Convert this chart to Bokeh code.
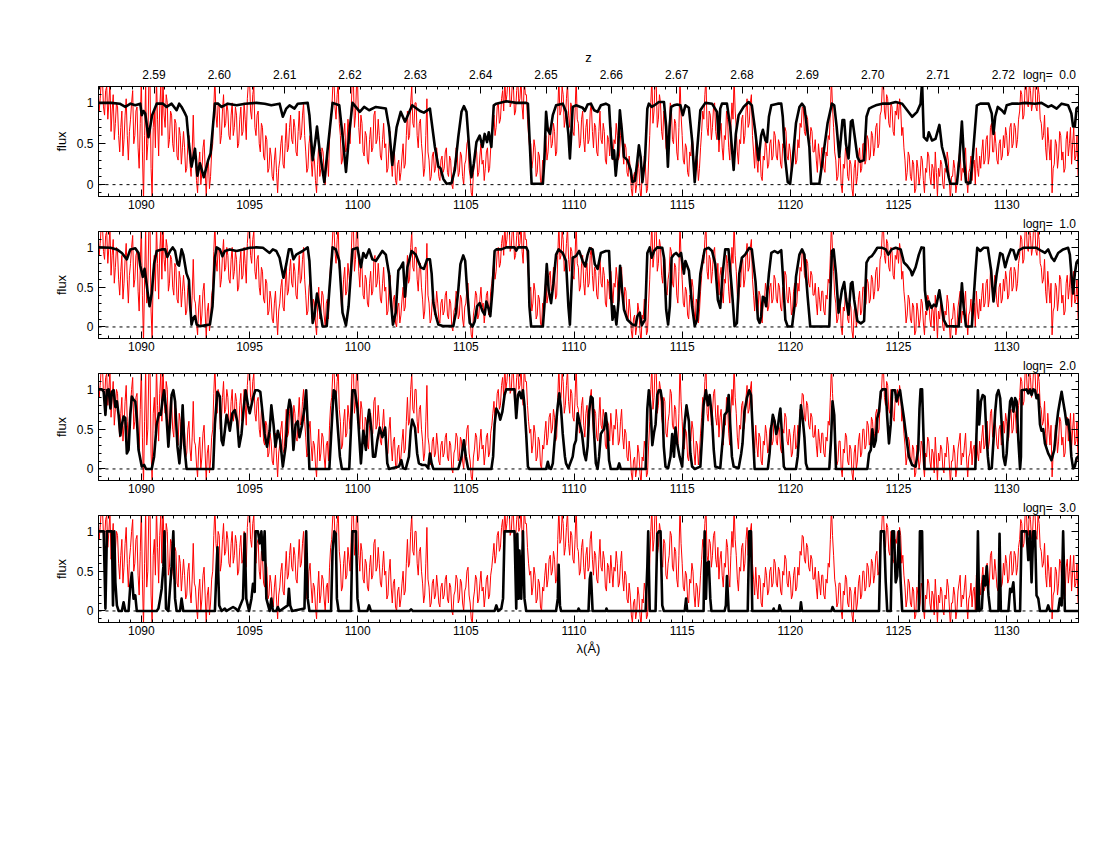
from bokeh.plotting import figure
from bokeh.models import (Range1d, LinearAxis, FixedTicker, NumeralTickFormatter,
                          CustomJSTickFormatter, CustomLabelingPolicy, Span)
from bokeh.layouts import column
from bokeh.embed import file_html
from bokeh.resources import INLINE

# ---------------- data ----------------
X_RANGE = (1088.02, 1133.32)
Y_RANGE = (-0.145, 1.2)
Z_RANGE = (2.5815, 2.7315)
X_TICKS = [1090, 1095, 1100, 1105, 1110, 1115, 1120, 1125, 1130]
Z_TICKS = [2.59, 2.60, 2.61, 2.62, 2.63, 2.64, 2.65, 2.66, 2.67, 2.68, 2.69, 2.70, 2.71, 2.72]
Y_TICKS = [0, 0.5, 1]
ETA_LABELS = ["logη=\u00a0\u00a00.0", "logη=\u00a0\u00a01.0", "logη=\u00a0\u00a02.0", "logη=\u00a0\u00a03.0"]

# observed spectrum (red), sampled every 0.05 A from 1088.0 A
RED_START = 1088.0
RED_STEP = 0.05
RED_FLUX = [
    1.25, 0.9, 1.05, 1.3, 1.3, 0.95, 0.85, 1.15, 1.2, 0.8, 1.0, 1.25, 0.65, 0.9, 1.1, 0.55, 0.75, 1.0, 0.95, 0.6,
    0.4, 0.7, 0.9, 0.35, 0.55, 0.85, 1.05, 0.6, 0.3, 0.65, 0.8, 1.0, 1.15, 0.5, 0.6, 0.9, 0.95, 0.45, 0.2, 0.75,
    1.3, 0.4, -0.2, 0.6, 1.25, 0.3, 0.5, 1.3, 1.3, 0.2, -0.15, 0.7, 0.9, 0.45, 1.3, 0.8, 0.35, 0.95, 1.2, 0.6,
    1.3, 0.85, 0.7, 1.1, 1.0, 0.45, 0.55, 0.9, 0.85, 0.5, 0.4, 0.8, 0.75, 0.35, 0.3, 0.7, 0.6, 0.25, 0.45, 0.65,
    0.45, 0.15, 0.2, 0.5, 0.6, 0.25, 0.1, 0.4, 0.85, 0.35, 0.3, 0.05, -0.1, 0.25, 0.4, 0.0, 0.15, 0.45, 0.55, 0.2,
    -0.15, 0.2, 0.3, -0.05, 0.1, 0.4, 0.5, 0.95, 1.3, 0.85, 0.7, 1.0, 0.95, 0.5, 0.6, 0.9, 1.1, 0.7, 0.75, 1.0,
    0.9, 0.6, 0.55, 0.85, 1.0, 0.6, 0.7, 0.95, 0.85, 0.45, 0.5, 0.8, 0.95, 0.6, 0.65, 1.0, 0.8, 0.55, 1.05, 1.25,
    1.3, 0.9, 0.8, 1.1, 1.2, 0.7, 0.6, 0.85, 0.9, 0.5, 0.4, 0.75, 0.7, 0.35, 0.3, 0.6, 0.55, 0.15, 0.2, 0.45,
    0.35, 0.1, 0.05, 0.3, 0.45, 0.15, -0.1, 0.2, 0.3, 0.5, 0.6, 0.25, 0.2, 0.5, 0.75, 0.4, 0.45, 0.7, 0.85, 0.55,
    0.5, 0.8, 0.7, 0.4, 0.35, 0.65, 0.9, 0.55, 0.6, 0.85, 1.0, 0.6, 0.4, 0.15, 0.2, 0.5, 0.6, 0.3, 0.1, 0.35,
    0.3, 0.05, -0.1, 0.25, 0.5, 0.1, 0.2, 0.45, 0.4, 0.15, 0.0, 0.3, 0.35, 0.1, 0.55, 0.8, 0.9, 1.2, 1.3, 0.95,
    0.8, 1.1, 1.25, 0.75, 0.6, 0.25, 0.3, 0.6, 0.75, 0.4, 0.45, 0.8, 0.65, 0.5, 0.9, 1.3, 1.3, 0.7, 0.85, 1.25,
    1.2, 0.7, 0.5, 0.85, 0.75, 0.4, 0.35, 0.65, 0.6, 0.3, 0.25, 0.55, 0.7, 0.4, 0.45, 0.85, 0.9, 0.5, 0.55, 0.8,
    0.6, 0.35, 0.3, 0.55, 0.75, 0.45, 0.5, 0.15, 0.2, 0.5, 0.65, 0.3, 0.1, 0.35, 0.4, 0.05, 0.0, 0.25, 0.3, 0.05,
    0.15, 0.35, 0.5, 0.2, 0.25, 0.6, 0.9, 0.55, 0.6, 1.0, 1.2, 0.75, 0.7, 1.0, 1.0, 0.6, 0.45, 0.75, 0.8, 0.5,
    0.35, 0.1, 0.2, 0.6, 1.05, 0.4, 0.3, 0.05, 0.1, 0.35, 0.4, 0.15, 0.2, 0.45, 0.3, 0.1, 0.05, 0.3, 0.35, 0.15,
    0.2, 0.4, 0.45, 0.15, 0.1, 0.35, 0.3, 0.0, -0.05, 0.2, 0.25, 0.45, 0.4, 0.1, 0.15, 0.4, 0.35, 0.1, 0.0, 0.25,
    0.3, 0.5, 0.55, 0.2, 0.1, -0.1, -0.15, 0.15, 0.25, 0.45, 0.4, 0.1, 0.15, 0.35, 0.5, 0.25, 0.3, 0.05, 0.2, 0.4,
    0.45, 0.15, 0.2, 0.45, 0.55, 0.7, 0.85, 0.6, 0.7, 0.95, 1.0, 0.75, 0.8, 1.05, 1.15, 0.9, 1.3, 1.0, 1.1, 1.3,
    1.3, 0.95, 1.0, 1.25, 1.2, 0.85, 0.9, 1.15, 1.3, 1.0, 1.05, 1.3, 0.95, 0.8, 1.3, 1.1, 1.1, 0.8, 0.6, 0.45,
    0.5, 0.2, 0.3, 0.55, 0.45, 0.1, 0.15, 0.4, 0.35, 0.05, 0.0, 0.3, 0.25, 0.45, 0.6, 0.3, 0.4, 0.65, 0.7, 0.45,
    0.5, 0.75, 0.65, 0.35, 0.4, 0.9, 1.3, 0.85, 0.9, 1.2, 1.1, 0.7, 0.8, 1.05, 1.25, 0.85, 0.7, 1.0, 0.95, 0.65,
    0.6, 0.9, 1.3, 0.8, 0.75, 0.45, 0.5, 0.8, 0.9, 0.55, 0.4, 0.7, 0.8, 0.5, 0.55, 0.9, 1.0, 0.65, 0.45, 0.75,
    0.7, 0.4, 0.35, 0.65, 0.9, 0.55, 0.5, 0.75, 0.65, 0.3, 0.25, 0.6, 0.55, 0.35, 0.7, 0.5, 0.3, 0.55, 0.5, 0.75,
    0.6, 0.3, 0.35, 0.6, 0.75, 0.4, 0.25, 0.5, 0.45, 0.15, 0.1, 0.35, 0.2, -0.05, -0.15, 0.1, 0.15, -0.1, 0.0, 0.3,
    0.2, -0.05, -0.2, 0.15, 0.1, 0.35, 0.25, -0.1, -0.05, 0.3, 0.6, 1.0, 1.3, 0.75, 0.9, 1.3, 1.25, 0.7, 0.8, 1.1,
    1.0, 0.65, 0.55, 0.9, 0.85, 0.45, 0.4, 0.6, 0.7, 1.0, 0.95, 0.55, 0.5, 0.8, 0.75, 0.4, 0.3, 0.7, 1.3, 0.85,
    0.6, 0.3, 0.25, 0.5, 0.45, 0.15, 0.1, 0.4, 0.35, 0.6, 0.5, 0.2, 0.05, 0.35, 0.3, 0.05, 0.2, 0.45, 0.65, 0.9,
    0.8, 1.1, 1.3, 0.7, 0.6, 0.9, 0.85, 0.55, 0.7, 0.95, 1.0, 0.65, 0.55, 0.8, 0.4, 0.65, 0.75, 0.45, 0.3, 0.6,
    0.55, 0.9, 0.8, 0.45, 0.3, 0.7, 1.0, 0.8, 1.3, 0.9, 0.7, 0.4, 0.25, 0.55, 0.5, 0.8, 0.85, 0.5, 0.6, 0.9,
    1.05, 0.7, 0.75, 1.0, 1.1, 0.6, 0.4, 0.2, 0.55, 0.3, 0.15, 0.45, 0.4, 0.1, 0.05, 0.35, 0.3, 0.55, 0.45, 0.2,
    0.25, 0.5, 0.55, 0.3, 0.35, 0.65, 0.6, 0.35, 0.3, 0.55, 0.5, 0.25, 0.2, 0.5, 0.45, 0.7, 0.65, 0.35, 0.3, 0.5,
    0.4, 0.15, 0.2, 0.45, 0.55, 0.25, 0.3, 0.55, 0.45, 0.75, 0.7, 0.95, 0.93, 0.65, 0.6, 0.85, 0.8, 0.55, 0.5, 0.7,
    0.65, 0.4, 0.4, 0.55, 0.3, 0.15, 0.5, 0.35, 0.2, 0.45, 0.45, 0.2, 0.15, 0.4, 0.35, 0.6, 0.55, 0.9, 1.3, 0.95,
    0.7, 0.4, 0.3, 0.05, 0.1, 0.35, 0.35, 0.0, -0.1, 0.25, 0.2, 0.45, 0.4, 0.1, 0.05, 0.3, 0.25, -0.05, -0.15, 0.2,
    0.3, 0.0, 0.1, 0.35, 0.45, 0.15, 0.2, 0.5, 0.5, 0.25, 0.3, 0.6, 0.55, 0.3, 0.35, 0.65, 0.6, 0.35, 0.45, 0.7,
    0.75, 0.45, 0.5, 0.85, 0.9, 1.2, 1.3, 0.9, 0.8, 1.1, 1.05, 0.75, 0.7, 1.0, 0.95, 0.65, 0.6, 0.9, 0.85, 1.0,
    0.8, 1.05, 0.95, 0.6, 0.7, 0.45, 0.3, 0.05, 0.15, 0.4, 0.35, 0.1, 0.05, 0.3, 0.25, -0.1, -0.05, 0.3, 0.2, 0.0,
    0.1, 0.35, 0.3, 0.05, -0.1, 0.2, 0.15, 0.4, 0.35, 0.1, 0.0, 0.25, 0.2, -0.05, 0.4, 0.15, -0.15, 0.2, 0.1, 0.3,
    0.25, 0.0, -0.05, 0.2, 0.15, 0.4, 0.3, 0.05, -0.2, 0.1, 0.1, 0.3, 0.2, -0.1, 0.0, 0.25, 0.35, 0.45, 0.05, 0.2,
    0.15, 0.3, 0.45, 0.1, -0.1, 0.15, 0.2, 0.35, 0.05, 0.25, 0.3, 0.0, 0.45, 0.2, 0.1, 0.35, 0.2, 0.4, 0.55, 0.25,
    0.3, 0.55, 0.6, 0.25, 0.35, 0.7, 0.75, 0.4, 0.4, 0.65, 0.5, 0.3, 0.25, 0.5, 0.55, 0.3, 0.35, 0.6, 0.45, 0.7,
    0.6, 0.35, 0.4, 0.7, 0.75, 0.45, 0.5, 0.75, 0.7, 0.45, 0.55, 0.8, 0.9, 1.15, 1.1, 0.8, 0.85, 1.2, 1.3, 1.0,
    0.95, 1.25, 1.15, 0.9, 1.0, 1.3, 1.3, 0.95, 0.9, 1.2, 1.1, 0.8, 0.75, 0.55, 0.6, 0.85, 0.45, 0.3, 0.7, 0.5,
    0.3, 0.55, -0.1, 0.2, 0.25, 0.55, 0.5, 0.2, 0.35, 0.65, 0.6, 0.3, 0.4, 0.15, 0.2, 0.55, 0.65, 0.35, 0.5, 0.7,
    0.25, 0.5, 0.7, 0.3, 0.35, 0.6, 0.1,
]

# model transmissions (black), (wavelength, flux) pairs for each log(eta)
MODEL_ETA0 = [
    (1088.02, 1.00), (1088.6, 1.00), (1089.0, 0.99), (1089.26, 0.95), (1089.5, 0.99), (1089.72, 0.97),
    (1089.95, 0.99), (1090.02, 0.85), (1090.10, 0.90), (1090.18, 0.87), (1090.33, 0.58), (1090.50, 0.85),
    (1090.71, 0.99), (1091.0, 0.99), (1091.17, 0.95), (1091.4, 0.99), (1091.63, 0.91), (1091.75, 0.99),
    (1091.86, 0.95), (1092.0, 0.88), (1092.09, 0.83), (1092.20, 0.50), (1092.32, 0.22), (1092.48, 0.44),
    (1092.59, 0.11), (1092.71, 0.26), (1092.89, 0.09), (1093.09, 0.30), (1093.20, 0.38), (1093.40, 0.99),
    (1093.55, 0.99), (1093.71, 0.95), (1094.0, 0.99), (1094.40, 0.97), (1094.8, 0.99), (1095.32, 1.00),
    (1095.7, 0.99), (1096.01, 0.97), (1096.39, 0.99), (1096.54, 0.83), (1096.70, 0.93), (1096.85, 0.97),
    (1097.08, 0.93), (1097.23, 0.99), (1097.69, 1.00), (1097.77, 0.85), (1097.92, 0.30), (1098.05, 0.55),
    (1098.12, 0.71), (1098.25, 0.40), (1098.46, 0.03), (1098.60, 0.40), (1098.84, 1.00), (1099.15, 0.97),
    (1099.30, 0.60), (1099.46, 0.155), (1099.60, 0.60), (1099.76, 1.00), (1100.10, 0.89), (1100.30, 0.95),
    (1100.53, 0.91), (1100.84, 0.95), (1101.30, 0.93), (1101.45, 0.70), (1101.60, 0.24), (1101.80, 0.70),
    (1101.99, 0.89), (1102.19, 0.77), (1102.52, 0.97), (1102.88, 0.90), (1103.06, 0.88), (1103.34, 0.93),
    (1103.57, 0.46), (1103.73, 0.22), (1103.83, 0.20), (1103.96, 0.07), (1104.11, 0.01), (1104.34, 0.02),
    (1104.49, 0.18), (1104.65, 0.58), (1104.80, 0.89), (1104.91, 0.96), (1105.03, 0.89), (1105.15, 0.46),
    (1105.26, 0.09), (1105.37, 0.26), (1105.49, 0.52), (1105.64, 0.60), (1105.77, 0.46), (1105.87, 0.62),
    (1105.98, 0.52), (1106.06, 0.64), (1106.18, 0.46), (1106.29, 0.97), (1106.41, 0.99), (1106.87, 1.02),
    (1107.33, 1.00), (1107.79, 1.00), (1107.87, 0.99), (1107.97, 0.42), (1108.04, 0.01), (1108.56, 0.01),
    (1108.63, 0.30), (1108.71, 0.89), (1108.79, 0.67), (1108.89, 0.62), (1109.02, 0.85), (1109.17, 0.97),
    (1109.48, 0.99), (1109.63, 0.89), (1109.74, 0.62), (1109.81, 0.32), (1109.94, 0.95), (1110.09, 0.97),
    (1110.40, 0.94), (1110.50, 0.90), (1110.63, 0.98), (1110.78, 0.99), (1110.93, 0.91), (1111.09, 0.89),
    (1111.24, 0.97), (1111.47, 0.99), (1111.62, 0.97), (1111.70, 0.60), (1111.78, 0.32), (1111.85, 0.42),
    (1111.93, 0.11), (1112.04, 0.42), (1112.12, 0.91), (1112.21, 0.67), (1112.31, 0.34), (1112.47, 0.30),
    (1112.62, 0.18), (1112.70, 0.03), (1112.82, 0.05), (1112.93, 0.30), (1113.00, 0.48), (1113.08, 0.34),
    (1113.16, 0.03), (1113.28, 0.30), (1113.39, 0.93), (1113.46, 0.99), (1113.59, 0.95), (1113.77, 0.98),
    (1113.92, 1.01), (1114.16, 1.01), (1114.26, 0.71), (1114.34, 0.22), (1114.42, 0.71), (1114.49, 0.95),
    (1114.62, 0.97), (1114.77, 0.98), (1114.92, 0.97), (1115.03, 0.85), (1115.15, 0.97), (1115.31, 0.94),
    (1115.46, 0.54), (1115.58, 0.03), (1115.69, 0.42), (1115.84, 0.91), (1116.07, 1.00), (1116.38, 0.99),
    (1116.61, 0.89), (1116.69, 0.56), (1116.76, 0.93), (1116.84, 0.99), (1117.07, 0.99), (1117.22, 0.71),
    (1117.38, 0.18), (1117.48, 0.62), (1117.61, 0.85), (1117.84, 0.95), (1118.07, 1.01), (1118.22, 0.97),
    (1118.37, 0.67), (1118.53, 0.30), (1118.65, 0.60), (1118.73, 0.67), (1118.85, 0.54), (1118.92, 0.52),
    (1119.01, 0.83), (1119.12, 0.97), (1119.42, 0.99), (1119.58, 0.99), (1119.65, 0.83), (1119.77, 0.30),
    (1119.88, 0.03), (1119.99, 0.01), (1120.11, 0.30), (1120.26, 0.75), (1120.42, 0.95), (1120.54, 0.99),
    (1120.65, 0.95), (1120.88, 0.46), (1120.96, 0.01), (1121.34, 0.01), (1121.49, 0.30), (1121.72, 0.75),
    (1121.92, 0.99), (1122.03, 0.97), (1122.14, 0.71), (1122.26, 0.34), (1122.41, 0.79), (1122.49, 0.79),
    (1122.57, 0.50), (1122.69, 0.32), (1122.80, 0.77), (1122.87, 0.79), (1123.00, 0.54), (1123.10, 0.34),
    (1123.21, 0.28), (1123.41, 0.30), (1123.52, 0.83), (1123.64, 0.93), (1123.79, 0.95), (1123.95, 0.97),
    (1124.25, 0.99), (1124.56, 0.99), (1124.87, 1.01), (1125.17, 0.99), (1125.40, 0.91), (1125.63, 0.83),
    (1125.86, 0.89), (1126.02, 0.99), (1126.09, 1.25), (1126.17, 0.58), (1126.32, 0.54), (1126.40, 0.64),
    (1126.55, 0.54), (1126.71, 0.56), (1126.89, 0.73), (1127.01, 0.46), (1127.17, 0.30), (1127.32, 0.09),
    (1127.40, 0.01), (1127.70, 0.01), (1127.81, 0.30), (1127.93, 0.77), (1128.03, 0.30), (1128.12, 0.03),
    (1128.32, 0.02), (1128.42, 0.30), (1128.62, 0.97), (1128.78, 0.99), (1129.01, 0.99), (1129.16, 0.99),
    (1129.31, 0.87), (1129.39, 0.62), (1129.47, 0.83), (1129.59, 0.95), (1129.77, 0.91), (1129.90, 0.87),
    (1130.00, 0.97), (1130.23, 0.99), (1130.54, 0.99), (1130.85, 1.00), (1131.31, 0.99), (1131.61, 1.00),
    (1131.92, 0.95), (1132.07, 0.97), (1132.31, 0.93), (1132.54, 0.99), (1132.84, 0.97), (1132.99, 0.87),
    (1133.07, 0.71), (1133.15, 0.71), (1133.23, 0.93), (1133.32, 0.95),
]

MODEL_ETA1 = [
    (1088.02, 1.00), (1088.57, 0.995), (1088.87, 0.975), (1089.10, 0.93), (1089.33, 0.85), (1089.49, 0.975),
    (1089.72, 0.99), (1089.87, 0.93), (1089.95, 0.77), (1090.07, 0.63), (1090.15, 0.73), (1090.22, 0.59),
    (1090.30, 0.42), (1090.38, 0.26), (1090.48, 0.42), (1090.59, 0.79), (1090.71, 0.955), (1090.94, 0.975),
    (1091.10, 0.975), (1091.20, 0.88), (1091.33, 0.955), (1091.45, 1.00), (1091.56, 0.955), (1091.67, 0.79),
    (1091.74, 0.77), (1091.86, 0.975), (1091.94, 0.91), (1092.09, 0.67), (1092.20, 0.59), (1092.25, 0.30),
    (1092.32, 0.03), (1092.40, 0.11), (1092.48, 0.135), (1092.56, 0.03), (1092.71, 0.01), (1092.94, 0.02),
    (1093.17, 0.03), (1093.29, 0.26), (1093.40, 0.87), (1093.48, 1.00), (1093.63, 0.975), (1093.75, 0.89),
    (1093.86, 0.955), (1094.09, 0.975), (1094.40, 0.955), (1094.70, 0.975), (1095.01, 0.995), (1095.32, 1.00),
    (1095.62, 0.995), (1095.93, 0.93), (1096.08, 0.975), (1096.24, 0.955), (1096.39, 0.87), (1096.57, 0.62),
    (1096.70, 0.79), (1096.82, 0.975), (1096.93, 0.975), (1097.03, 0.85), (1097.16, 0.91), (1097.46, 0.955),
    (1097.69, 1.00), (1097.77, 0.83), (1097.92, 0.05), (1098.00, 0.135), (1098.12, 0.42), (1098.23, 0.26),
    (1098.38, 0.005), (1098.57, 0.01), (1098.69, 0.46), (1098.84, 1.00), (1098.99, 0.975), (1099.15, 0.83),
    (1099.30, 0.18), (1099.46, 0.02), (1099.58, 0.26), (1099.76, 0.975), (1099.99, 0.995), (1100.15, 0.75),
    (1100.26, 0.93), (1100.38, 0.87), (1100.53, 0.975), (1100.68, 0.85), (1100.84, 0.83), (1101.14, 0.955),
    (1101.30, 0.91), (1101.45, 0.67), (1101.53, 0.34), (1101.63, 0.03), (1101.76, 0.18), (1101.88, 0.71),
    (1101.99, 0.75), (1102.10, 0.81), (1102.19, 0.38), (1102.30, 0.75), (1102.49, 0.955), (1102.68, 0.91),
    (1102.91, 0.75), (1103.06, 0.73), (1103.21, 0.85), (1103.34, 0.85), (1103.42, 0.67), (1103.50, 0.30),
    (1103.62, 0.135), (1103.73, 0.03), (1103.96, 0.01), (1104.42, 0.01), (1104.54, 0.18), (1104.65, 0.46),
    (1104.75, 0.79), (1104.88, 0.90), (1104.97, 0.83), (1105.06, 0.46), (1105.18, 0.05), (1105.31, 0.005),
    (1105.41, 0.07), (1105.52, 0.26), (1105.64, 0.30), (1105.77, 0.20), (1105.87, 0.155), (1105.95, 0.32),
    (1106.06, 0.22), (1106.13, 0.135), (1106.23, 0.46), (1106.33, 0.955), (1106.41, 0.975), (1106.64, 0.975),
    (1106.87, 1.00), (1107.25, 1.00), (1107.33, 0.96), (1107.41, 1.00), (1107.79, 1.00), (1107.87, 0.955),
    (1107.94, 0.26), (1108.02, 0.005), (1108.56, 0.005), (1108.63, 0.26), (1108.74, 0.79), (1108.83, 0.46),
    (1108.94, 0.30), (1109.05, 0.55), (1109.17, 0.91), (1109.29, 0.975), (1109.48, 0.93), (1109.63, 0.83),
    (1109.74, 0.26), (1109.81, 0.03), (1109.94, 0.87), (1110.09, 0.89), (1110.24, 0.955), (1110.40, 0.83),
    (1110.52, 0.76), (1110.63, 0.91), (1110.73, 0.99), (1110.86, 0.975), (1110.96, 0.79), (1111.09, 0.73),
    (1111.24, 0.93), (1111.47, 0.955), (1111.62, 0.955), (1111.70, 0.46), (1111.78, 0.09), (1111.85, 0.26),
    (1111.96, 0.03), (1112.05, 0.30), (1112.13, 0.77), (1112.21, 0.50), (1112.31, 0.22), (1112.47, 0.09),
    (1112.70, 0.03), (1112.85, 0.02), (1112.93, 0.135), (1113.04, 0.18), (1113.13, 0.02), (1113.28, 0.09),
    (1113.39, 0.93), (1113.50, 1.00), (1113.59, 0.87), (1113.70, 0.955), (1113.85, 1.00), (1114.08, 0.995),
    (1114.16, 0.87), (1114.26, 0.22), (1114.35, 0.03), (1114.43, 0.26), (1114.51, 0.87), (1114.62, 0.91),
    (1114.72, 0.93), (1114.85, 0.89), (1114.95, 0.93), (1115.08, 0.67), (1115.15, 0.83), (1115.31, 0.71),
    (1115.46, 0.26), (1115.58, 0.01), (1115.69, 0.09), (1115.84, 0.67), (1116.04, 0.975), (1116.23, 0.995),
    (1116.38, 0.955), (1116.53, 0.79), (1116.65, 0.34), (1116.76, 0.24), (1116.87, 0.67), (1116.99, 0.975),
    (1117.14, 0.975), (1117.30, 0.46), (1117.42, 0.01), (1117.53, 0.05), (1117.64, 0.67), (1117.76, 0.87),
    (1117.91, 0.91), (1118.10, 0.995), (1118.22, 0.975), (1118.39, 0.57), (1118.50, 0.10), (1118.58, 0.05),
    (1118.65, 0.135), (1118.73, 0.38), (1118.81, 0.36), (1118.88, 0.26), (1119.01, 0.67), (1119.12, 0.93),
    (1119.27, 0.955), (1119.42, 0.93), (1119.58, 0.965), (1119.65, 0.67), (1119.77, 0.09), (1119.88, 0.005),
    (1120.08, 0.005), (1120.19, 0.26), (1120.26, 0.63), (1120.42, 0.91), (1120.54, 0.975), (1120.65, 0.91),
    (1120.80, 0.38), (1120.92, 0.005), (1121.80, 0.005), (1121.92, 0.955), (1122.00, 0.975), (1122.11, 0.67),
    (1122.23, 0.18), (1122.38, 0.46), (1122.49, 0.565), (1122.57, 0.36), (1122.69, 0.155), (1122.80, 0.545),
    (1122.87, 0.565), (1122.95, 0.34), (1123.10, 0.075), (1123.26, 0.045), (1123.41, 0.075), (1123.52, 0.81),
    (1123.64, 0.87), (1123.76, 0.89), (1123.87, 0.93), (1124.02, 0.995), (1124.25, 0.995), (1124.41, 0.975),
    (1124.53, 0.91), (1124.68, 0.975), (1124.87, 0.995), (1125.10, 0.975), (1125.25, 0.81), (1125.40, 0.77),
    (1125.56, 0.71), (1125.63, 0.65), (1125.79, 0.75), (1125.94, 0.91), (1126.06, 1.00), (1126.17, 0.995),
    (1126.22, 0.46), (1126.32, 0.22), (1126.40, 0.32), (1126.52, 0.24), (1126.63, 0.28), (1126.74, 0.26),
    (1126.89, 0.46), (1126.98, 0.30), (1127.09, 0.09), (1127.24, 0.01), (1127.78, 0.005), (1127.87, 0.30),
    (1127.93, 0.55), (1128.01, 0.26), (1128.12, 0.005), (1128.39, 0.005), (1128.55, 0.67), (1128.64, 0.995),
    (1128.78, 0.955), (1128.93, 0.995), (1129.13, 0.995), (1129.28, 0.71), (1129.39, 0.32), (1129.54, 0.67),
    (1129.70, 0.93), (1129.81, 0.91), (1129.93, 0.75), (1130.05, 0.87), (1130.19, 0.975), (1130.31, 0.965),
    (1130.43, 0.85), (1130.57, 0.965), (1130.77, 0.995), (1131.15, 0.995), (1131.38, 0.995), (1131.61, 0.955),
    (1131.77, 0.93), (1131.92, 0.975), (1132.08, 0.87), (1132.20, 0.83), (1132.38, 0.93), (1132.61, 0.975),
    (1132.84, 0.995), (1132.92, 0.91), (1132.99, 0.67), (1133.07, 0.42), (1133.15, 0.67), (1133.23, 0.81),
    (1133.32, 0.85),
]

MODEL_ETA2 = [
    (1088.02, 1.00), (1088.18, 1.00), (1088.26, 0.97), (1088.34, 0.68), (1088.41, 0.99), (1088.49, 1.00),
    (1088.57, 0.76), (1088.64, 0.97), (1088.72, 0.99), (1088.80, 0.78), (1088.87, 0.85), (1088.95, 0.68),
    (1089.03, 0.42), (1089.10, 0.56), (1089.18, 0.66), (1089.26, 0.64), (1089.33, 0.195), (1089.41, 0.24),
    (1089.49, 0.68), (1089.56, 0.91), (1089.64, 0.87), (1089.72, 0.85), (1089.79, 0.64), (1089.87, 0.24),
    (1090.02, 0.03), (1090.13, 0.05), (1090.22, 0.00), (1090.48, 0.00), (1090.59, 0.155), (1090.71, 0.56),
    (1090.82, 0.70), (1090.90, 0.68), (1090.98, 0.87), (1091.05, 0.99), (1091.14, 0.76), (1091.25, 0.28),
    (1091.33, 0.60), (1091.40, 0.93), (1091.48, 0.99), (1091.56, 0.85), (1091.67, 0.28), (1091.76, 0.07),
    (1091.82, 0.28), (1091.91, 0.80), (1091.99, 0.28), (1092.09, 0.00), (1093.32, 0.00), (1093.40, 0.56),
    (1093.51, 0.97), (1093.63, 0.91), (1093.71, 0.36), (1093.78, 0.30), (1093.86, 0.48), (1093.94, 0.68),
    (1094.01, 0.60), (1094.09, 0.48), (1094.21, 0.70), (1094.32, 0.74), (1094.43, 0.60), (1094.52, 0.28),
    (1094.63, 0.44), (1094.73, 0.76), (1094.82, 0.99), (1094.93, 0.80), (1095.01, 0.70), (1095.16, 0.89),
    (1095.27, 0.99), (1095.39, 0.99), (1095.50, 0.97), (1095.59, 0.74), (1095.70, 0.44), (1095.81, 0.28),
    (1095.93, 0.48), (1096.01, 0.80), (1096.11, 0.56), (1096.20, 0.28), (1096.31, 0.48), (1096.42, 0.36),
    (1096.54, 0.03), (1096.67, 0.28), (1096.77, 0.72), (1096.85, 0.87), (1096.93, 0.76), (1097.03, 0.24),
    (1097.13, 0.56), (1097.23, 0.60), (1097.31, 0.40), (1097.42, 0.54), (1097.54, 0.76), (1097.62, 0.99),
    (1097.69, 0.56), (1097.77, 0.00), (1098.69, 0.00), (1098.81, 0.60), (1098.89, 0.99), (1098.97, 0.97),
    (1099.07, 0.56), (1099.18, 0.155), (1099.27, 0.00), (1099.61, 0.00), (1099.70, 0.56), (1099.76, 0.99),
    (1099.87, 0.99), (1099.99, 0.76), (1100.15, 0.07), (1100.26, 0.48), (1100.38, 0.24), (1100.45, 0.56),
    (1100.53, 0.745), (1100.64, 0.48), (1100.71, 0.155), (1100.81, 0.155), (1100.91, 0.36), (1101.02, 0.52),
    (1101.14, 0.40), (1101.27, 0.52), (1101.37, 0.07), (1101.45, 0.00), (1101.91, 0.03), (1102.02, 0.11),
    (1102.10, 0.01), (1102.22, 0.00), (1102.37, 0.155), (1102.45, 0.48), (1102.52, 0.62), (1102.65, 0.52),
    (1102.75, 0.195), (1102.83, 0.07), (1102.98, 0.05), (1103.14, 0.05), (1103.26, 0.01), (1103.34, 0.195),
    (1103.42, 0.07), (1103.50, 0.00), (1104.65, 0.00), (1104.80, 0.155), (1104.91, 0.36), (1105.00, 0.155),
    (1105.11, 0.00), (1106.18, 0.00), (1106.26, 0.155), (1106.33, 0.56), (1106.41, 0.76), (1106.52, 0.70),
    (1106.59, 0.62), (1106.69, 0.72), (1106.79, 0.93), (1106.87, 1.00), (1107.25, 1.00), (1107.33, 0.64),
    (1107.41, 0.93), (1107.48, 0.97), (1107.56, 0.89), (1107.64, 0.99), (1107.71, 0.80), (1107.79, 0.44),
    (1107.87, 0.03), (1107.94, 0.00), (1108.71, 0.00), (1108.79, 0.09), (1108.86, 0.01), (1108.94, 0.00),
    (1109.02, 0.07), (1109.14, 0.48), (1109.25, 0.80), (1109.32, 0.95), (1109.40, 0.76), (1109.48, 0.44),
    (1109.58, 0.155), (1109.63, 0.07), (1109.74, 0.01), (1109.94, 0.155), (1110.01, 0.30), (1110.09, 0.36),
    (1110.17, 0.70), (1110.24, 0.60), (1110.37, 0.44), (1110.47, 0.195), (1110.55, 0.11), (1110.63, 0.28),
    (1110.70, 0.72), (1110.78, 0.91), (1110.86, 0.89), (1110.93, 0.44), (1111.01, 0.07), (1111.09, 0.00),
    (1111.16, 0.155), (1111.24, 0.44), (1111.32, 0.48), (1111.39, 0.50), (1111.47, 0.70), (1111.55, 0.48),
    (1111.62, 0.11), (1111.70, 0.00), (1112.01, 0.00), (1112.09, 0.07), (1112.16, 0.00), (1113.31, 0.00),
    (1113.39, 0.76), (1113.46, 0.99), (1113.54, 0.76), (1113.62, 0.30), (1113.70, 0.46), (1113.77, 0.56),
    (1113.85, 0.93), (1113.92, 0.99), (1114.00, 0.99), (1114.08, 0.85), (1114.15, 0.28), (1114.23, 0.03),
    (1114.35, 0.01), (1114.46, 0.155), (1114.54, 0.44), (1114.62, 0.155), (1114.69, 0.52), (1114.77, 0.32),
    (1114.88, 0.155), (1115.00, 0.03), (1115.11, 0.56), (1115.20, 0.80), (1115.31, 0.60), (1115.38, 0.195),
    (1115.46, 0.03), (1115.58, 0.00), (1115.84, 0.03), (1115.92, 0.40), (1115.99, 0.80), (1116.10, 0.99),
    (1116.19, 0.80), (1116.27, 0.93), (1116.38, 0.64), (1116.46, 0.24), (1116.53, 0.03), (1116.76, 0.01),
    (1116.87, 0.36), (1116.96, 0.68), (1117.07, 0.72), (1117.15, 0.93), (1117.22, 0.56), (1117.30, 0.155),
    (1117.38, 0.03), (1117.61, 0.01), (1117.73, 0.195), (1117.79, 0.32), (1117.88, 0.72), (1117.99, 0.89),
    (1118.10, 0.99), (1118.18, 0.93), (1118.27, 0.44), (1118.35, 0.00), (1118.96, 0.00), (1119.04, 0.195),
    (1119.12, 0.52), (1119.19, 0.68), (1119.27, 0.60), (1119.35, 0.44), (1119.42, 0.52), (1119.50, 0.70),
    (1119.54, 0.76), (1119.61, 0.44), (1119.70, 0.03), (1119.77, 0.00), (1120.26, 0.00), (1120.34, 0.155),
    (1120.42, 0.48), (1120.49, 0.80), (1120.57, 0.64), (1120.65, 0.40), (1120.72, 0.07), (1120.80, 0.00),
    (1121.80, 0.00), (1121.88, 0.36), (1121.95, 0.85), (1122.03, 0.68), (1122.11, 0.00), (1123.56, 0.00),
    (1123.64, 0.195), (1123.72, 0.24), (1123.79, 0.50), (1123.87, 0.28), (1123.95, 0.36), (1124.02, 0.64),
    (1124.10, 0.72), (1124.18, 0.97), (1124.25, 1.00), (1124.41, 1.00), (1124.48, 0.64), (1124.56, 0.32),
    (1124.64, 0.56), (1124.71, 0.99), (1124.84, 0.99), (1124.91, 0.85), (1124.99, 0.93), (1125.07, 0.99),
    (1125.14, 0.85), (1125.25, 0.64), (1125.36, 0.40), (1125.48, 0.155), (1125.63, 0.05), (1125.79, 0.03),
    (1125.91, 0.24), (1125.97, 0.76), (1126.02, 1.00), (1126.09, 1.00), (1126.14, 0.56), (1126.20, 0.00),
    (1128.55, 0.00), (1128.62, 0.56), (1128.67, 0.99), (1128.73, 0.56), (1128.81, 0.85), (1128.89, 0.93),
    (1128.98, 0.91), (1129.04, 0.56), (1129.13, 0.155), (1129.19, 0.00), (1129.31, 0.01), (1129.39, 0.36),
    (1129.47, 0.72), (1129.54, 0.93), (1129.62, 0.99), (1129.70, 0.89), (1129.77, 0.56), (1129.85, 0.155),
    (1129.93, 0.05), (1130.00, 0.195), (1130.08, 0.56), (1130.16, 0.85), (1130.23, 0.89), (1130.31, 0.72),
    (1130.39, 0.89), (1130.46, 0.85), (1130.54, 0.36), (1130.62, 0.00), (1130.66, 0.155), (1130.69, 0.99),
    (1130.92, 1.00), (1131.00, 0.95), (1131.08, 1.00), (1131.15, 0.93), (1131.23, 1.00), (1131.31, 0.99),
    (1131.38, 0.89), (1131.46, 0.93), (1131.54, 0.56), (1131.61, 0.48), (1131.69, 0.50), (1131.77, 0.32),
    (1131.92, 0.195), (1132.00, 0.155), (1132.07, 0.11), (1132.20, 0.24), (1132.31, 0.56), (1132.38, 0.72),
    (1132.46, 0.85), (1132.54, 0.97), (1132.61, 0.85), (1132.69, 0.72), (1132.77, 0.56), (1132.84, 0.62),
    (1132.92, 0.44), (1132.99, 0.155), (1133.07, 0.01), (1133.15, 0.03), (1133.23, 0.135), (1133.32, 0.16),
]

MODEL_ETA3 = [
    (1088.02, 1.00), (1088.26, 1.00), (1088.34, 0.03), (1088.41, 1.00), (1088.64, 1.00), (1088.69, 0.07),
    (1088.75, 1.00), (1088.80, 0.36), (1088.87, 0.07), (1088.95, 0.00), (1089.10, 0.00), (1089.18, 0.11),
    (1089.26, 0.00), (1089.41, 0.00), (1089.49, 0.32), (1089.56, 0.48), (1089.64, 0.155), (1089.72, 0.195),
    (1089.79, 0.00), (1090.71, 0.00), (1090.79, 0.03), (1090.87, 0.155), (1090.94, 0.28), (1091.02, 0.56),
    (1091.07, 1.00), (1091.14, 0.03), (1091.25, 0.00), (1091.40, 0.56), (1091.48, 1.00), (1091.56, 0.155),
    (1091.63, 0.00), (1091.79, 0.00), (1091.86, 0.155), (1091.94, 0.00), (1093.40, 0.00), (1093.48, 0.56),
    (1093.52, 0.80), (1093.60, 0.07), (1093.71, 0.00), (1093.86, 0.03), (1093.94, 0.00), (1094.24, 0.05),
    (1094.36, 0.03), (1094.47, 0.00), (1094.70, 0.155), (1094.78, 0.97), (1094.85, 0.155), (1094.98, 0.00),
    (1095.09, 0.155), (1095.16, 0.34), (1095.24, 0.24), (1095.28, 1.00), (1095.39, 1.00), (1095.47, 0.85),
    (1095.55, 1.00), (1095.62, 0.64), (1095.70, 1.00), (1095.78, 0.155), (1095.93, 0.00), (1096.01, 0.155),
    (1096.08, 0.00), (1096.24, 0.00), (1096.31, 0.05), (1096.39, 0.00), (1096.77, 0.07), (1096.82, 0.28),
    (1096.88, 0.07), (1096.97, 0.00), (1097.54, 0.03), (1097.62, 1.00), (1097.69, 0.155), (1097.77, 0.00),
    (1098.77, 0.00), (1098.84, 0.76), (1098.92, 1.00), (1098.99, 0.97), (1099.04, 0.155), (1099.12, 0.00),
    (1099.69, 0.00), (1099.76, 1.00), (1099.92, 1.00), (1099.99, 0.155), (1100.07, 0.00), (1100.45, 0.00),
    (1100.53, 0.07), (1100.61, 0.00), (1102.40, 0.00), (1102.47, 0.02), (1102.55, 0.00), (1106.33, 0.00),
    (1106.41, 0.07), (1106.49, 0.00), (1106.64, 0.03), (1106.72, 0.155), (1106.79, 1.00), (1107.25, 1.00),
    (1107.33, 0.03), (1107.38, 0.97), (1107.44, 0.155), (1107.48, 0.76), (1107.56, 0.155), (1107.64, 1.00),
    (1107.71, 0.155), (1107.79, 0.00), (1109.17, 0.00), (1109.25, 0.155), (1109.29, 0.58), (1109.35, 0.07),
    (1109.40, 0.00), (1110.17, 0.00), (1110.21, 0.03), (1110.27, 0.00), (1110.67, 0.00), (1110.73, 0.40),
    (1110.78, 0.48), (1110.86, 0.00), (1111.47, 0.00), (1111.50, 0.03), (1111.55, 0.00), (1113.31, 0.00),
    (1113.39, 0.56), (1113.43, 1.00), (1113.50, 0.00), (1113.77, 0.00), (1113.85, 0.97), (1113.92, 1.00),
    (1114.00, 1.00), (1114.08, 0.07), (1114.15, 0.00), (1115.12, 0.00), (1115.18, 0.155), (1115.23, 0.00),
    (1115.99, 0.00), (1116.04, 1.00), (1116.10, 0.155), (1116.15, 0.60), (1116.23, 0.62), (1116.30, 0.155),
    (1116.35, 0.00), (1116.96, 0.00), (1117.02, 0.07), (1117.07, 0.44), (1117.15, 0.00), (1118.03, 0.00),
    (1118.10, 1.00), (1118.18, 1.00), (1118.24, 0.00), (1119.19, 0.00), (1119.23, 0.03), (1119.27, 0.00),
    (1119.46, 0.00), (1119.50, 0.07), (1119.58, 0.00), (1120.45, 0.00), (1120.49, 0.11), (1120.54, 0.00),
    (1121.90, 0.00), (1121.95, 0.05), (1122.03, 0.00), (1124.10, 0.00), (1124.18, 1.00), (1124.33, 1.00),
    (1124.41, 0.36), (1124.48, 0.00), (1124.64, 0.00), (1124.71, 1.00), (1124.79, 1.00), (1124.87, 0.36),
    (1124.94, 0.44), (1125.02, 1.00), (1125.10, 0.36), (1125.17, 0.00), (1125.94, 0.00), (1125.99, 1.00),
    (1126.09, 1.00), (1126.14, 0.00), (1128.62, 0.00), (1128.67, 1.00), (1128.73, 0.00), (1128.85, 0.03),
    (1128.93, 0.44), (1129.01, 0.32), (1129.08, 0.56), (1129.16, 0.195), (1129.24, 0.00), (1129.62, 0.00),
    (1129.67, 0.97), (1129.73, 0.00), (1130.08, 0.00), (1130.16, 0.28), (1130.23, 0.24), (1130.31, 0.36),
    (1130.39, 0.00), (1130.62, 0.00), (1130.69, 1.00), (1130.92, 1.00), (1131.00, 0.64), (1131.08, 1.00),
    (1131.15, 0.36), (1131.23, 1.00), (1131.31, 1.00), (1131.38, 0.195), (1131.46, 0.155), (1131.54, 0.00),
    (1131.84, 0.00), (1131.92, 0.07), (1132.00, 0.00), (1132.38, 0.00), (1132.46, 0.155), (1132.54, 0.07),
    (1132.61, 1.00), (1132.69, 0.00), (1133.32, 0.00),
]

MODELS = [MODEL_ETA0, MODEL_ETA1, MODEL_ETA2, MODEL_ETA3]

# ---------------- layout / style ----------------
FONT = "Liberation Sans"
FRAME_W, FRAME_H = 980, 110
BORDER_L, BORDER_R = 98, 10
ETA_HALF_W = 29  # half width (px) of the log(eta) text, so that it ends at the right frame edge

red_wl = [round(RED_START + RED_STEP * i, 3) for i in range(len(RED_FLUX))]
x_minor = [1088 + 0.5 * i for i in range(92)]
y_minor = [round(-0.1 + 0.1 * i, 1) for i in range(13)]
z_minor = [2.58 + 0.01 * i / 6 for i in range(6 * 16)]

NO_LABELS = "for (const i of indices) { indices.unset(i) } return indices"


def style_axis(ax):
    ax.axis_line_color = "black"
    ax.axis_line_width = 1
    ax.major_tick_in = 7
    ax.major_tick_out = 0
    ax.minor_tick_in = 3
    ax.minor_tick_out = 0
    ax.major_tick_line_color = "black"
    ax.minor_tick_line_color = "black"
    ax.major_label_text_font = FONT
    ax.major_label_text_font_size = "12px"
    ax.major_label_text_color = "black"
    ax.major_label_standoff = 5
    ax.axis_label_text_font = FONT
    ax.axis_label_text_font_size = "13px"
    ax.axis_label_text_font_style = "normal"
    ax.axis_label_text_color = "black"


def ticks_only(ax):
    # mirrored tick marks without any tick labels, taking no room
    style_axis(ax)
    ax.major_label_text_font_size = "0px"
    ax.major_label_policy = CustomLabelingPolicy(code=NO_LABELS)
    ax.major_label_standoff = 0


def labels_only(ax):
    style_axis(ax)
    ax.axis_line_color = None
    ax.major_tick_line_color = None
    ax.minor_tick_line_color = None


def make_panel(idx):
    first = idx == 0
    last = idx == 3
    top = 86 if first else 15
    bottom = 52 if last else 17
    p = figure(width=BORDER_L + FRAME_W + BORDER_R, height=top + FRAME_H + bottom,
               x_range=Range1d(*X_RANGE), y_range=Range1d(*Y_RANGE),
               output_backend="svg", toolbar_location=None,
               min_border_left=BORDER_L, min_border_right=BORDER_R,
               min_border_top=top, min_border_bottom=bottom,
               x_axis_location=None, y_axis_location=None)
    p.grid.visible = False
    p.outline_line_color = "black"
    p.background_fill_color = "white"
    p.border_fill_color = "white"

    # bottom wavelength axis
    xb = LinearAxis(ticker=FixedTicker(ticks=X_TICKS, minor_ticks=x_minor))
    style_axis(xb)
    xb.major_label_standoff = 3
    if last:
        xb.axis_label = "λ(Å)"
        xb.axis_label_standoff = 3
    p.add_layout(xb, "below")

    # left flux axis
    yl = LinearAxis(ticker=FixedTicker(ticks=Y_TICKS, minor_ticks=y_minor),
                    formatter=NumeralTickFormatter(format="0.[0]"), axis_label="flux")
    style_axis(yl)
    yl.axis_label_standoff = 5
    p.add_layout(yl, "left")

    # right mirrored ticks
    yr = LinearAxis(ticker=FixedTicker(ticks=Y_TICKS, minor_ticks=y_minor))
    ticks_only(yr)
    p.add_layout(yr, "right")

    eta_text = ETA_LABELS[idx]
    if first:
        p.extra_x_ranges = {"z": Range1d(*Z_RANGE)}
        zt = LinearAxis(x_range_name="z", ticker=FixedTicker(ticks=Z_TICKS, minor_ticks=z_minor))
        ticks_only(zt)
        p.add_layout(zt, "above")
        eta_z = Z_RANGE[1] - ETA_HALF_W / FRAME_W * (Z_RANGE[1] - Z_RANGE[0])
        zl = LinearAxis(x_range_name="z",
                        ticker=FixedTicker(ticks=Z_TICKS + [eta_z], minor_ticks=[]),
                        formatter=CustomJSTickFormatter(
                            args=dict(lab=eta_text, lim=Z_TICKS[-1] + 0.003),
                            code="return tick > lim ? lab : tick.toFixed(2);"),
                        axis_label="z")
        labels_only(zl)
        zl.axis_label_standoff = 0
        p.add_layout(zl, "above")
    else:
        xt = LinearAxis(ticker=FixedTicker(ticks=X_TICKS, minor_ticks=x_minor))
        ticks_only(xt)
        p.add_layout(xt, "above")
        eta_x = X_RANGE[1] - ETA_HALF_W / FRAME_W * (X_RANGE[1] - X_RANGE[0])
        xl = LinearAxis(ticker=FixedTicker(ticks=[eta_x], minor_ticks=[]),
                        formatter=CustomJSTickFormatter(args=dict(lab=eta_text), code="return lab;"))
        labels_only(xl)
        xl.major_label_standoff = 1
        p.add_layout(xl, "above")

    p.add_layout(Span(location=0, dimension="width", line_color="black",
                      line_width=1, line_dash="3 4"))

    p.line(red_wl, RED_FLUX, line_color="#ff0000", line_width=1)
    wl = [pt[0] for pt in MODELS[idx]]
    fl = [pt[1] for pt in MODELS[idx]]
    p.line(wl, fl, line_color="black", line_width=2.6, line_join="round")
    return p


panels = [make_panel(i) for i in range(4)]
layout = column(*panels, spacing=0)
open("out.html", "w").write(file_html(layout, INLINE))
